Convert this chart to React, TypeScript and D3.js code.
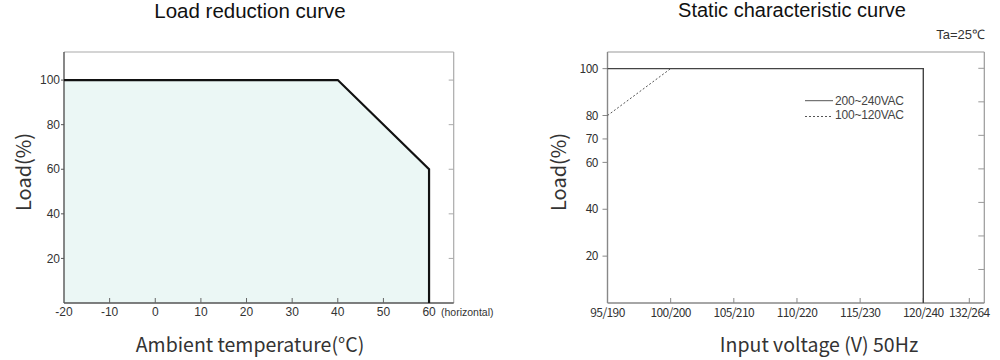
import React from "react";
import * as d3 from "d3";

// ---- Data: Load reduction curve ----
const tempTicks = [-20, -10, 0, 10, 20, 30, 40, 50, 60];
const loadTicksL = [20, 40, 60, 80, 100];
const derateTemp = [-20, 40, 60, 60];
const derateLoad = [100, 100, 60, 0];

// ---- Data: Static characteristic curve ----
const voltTickValues = [95, 100, 105, 110, 115, 120, 132];
const voltTickLabels = ["95/190", "100/200", "105/210", "110/220", "115/230", "120/240", "132/264"];
const loadTicksR = [20, 40, 60, 70, 80, 100];
const rightMinorTicks = [1, 2, 3, 4, 5, 6, 7];
const highVolt = [95, 120, 120];
const highLoad = [100, 100, 0];
const lowVolt = [95, 100];
const lowLoad = [80, 100];
const legendLabels = ["200~240VAC", "100~120VAC"];

const ARIAL = "'Liberation Sans', Arial, sans-serif";
const CJK = "'Noto Sans CJK SC', 'Noto Sans', sans-serif";

export default function App() {
  // left chart
  const L = { x0: 64, x1: 453.7, y0: 52, y1: 303 };
  const xL = d3.scaleLinear().domain([-20, 65.4]).range([L.x0, L.x1]);
  const yL = d3.scaleLinear().domain([0, 112.6]).range([L.y1, L.y0]);
  const derPts: [number, number][] = derateTemp.map((t, i) => [t, derateLoad[i]]);
  const lineL = d3.line<[number, number]>().x(d => xL(d[0])).y(d => yL(d[1]));
  const areaL = d3.area<[number, number]>().x(d => xL(d[0])).y0(yL(0)).y1(d => yL(d[1]));

  // right chart
  const R = { x0: 607.5, x1: 984.3, y0: 52, y1: 303 };
  const xR = d3.scaleLinear().domain([95, 120, 132, 135.26]).range([R.x0, 923.3, 969.3, R.x1]);
  const yR = d3.scaleLinear().domain([0, 107.1]).range([R.y1, R.y0]);
  const yR2 = d3.scaleLinear().domain([0, 7]).range([R.y1, 68.3]);
  const lineR = d3.line<[number, number]>().x(d => xR(d[0])).y(d => yR(d[1]));
  const hiPts: [number, number][] = highVolt.map((v, i) => [v, highLoad[i]]);
  const loPts: [number, number][] = lowVolt.map((v, i) => [v, lowLoad[i]]);

  const tickColor = "#666";
  const labelColor = "#333";

  return (
    <svg width={1000} height={360} style={{ position: "absolute", left: 0, top: 0, background: "#fff" }}>
      {/* ===== LEFT CHART ===== */}
      <text x={250} y={18} textAnchor="middle" fontFamily={ARIAL} fontSize={20.5} fill="#111">Load reduction curve</text>
      <path d={areaL(derPts) || ""} fill="#ebf7f5" />
      {/* frame */}
      <line x1={L.x0} x2={L.x1} y1={L.y0} y2={L.y0} stroke="#aaa" strokeWidth={1.2} />
      <line x1={L.x1} x2={L.x1} y1={L.y0} y2={L.y1} stroke="#aaa" strokeWidth={1.2} />
      <line x1={L.x0} x2={L.x0} y1={L.y0} y2={L.y1} stroke="#555" strokeWidth={1.4} />
      <line x1={L.x0} x2={L.x1} y1={L.y1} y2={L.y1} stroke="#555" strokeWidth={1.4} />
      {loadTicksL.map(v => (
        <g key={"ly" + v}>
          <line x1={L.x0 - 3} x2={L.x0} y1={yL(v)} y2={yL(v)} stroke="#555" />
          <line x1={L.x1 - 5} x2={L.x1} y1={yL(v)} y2={yL(v)} stroke="#aaa" />
          <text x={60} y={yL(v)} dy="0.35em" textAnchor="end" fontFamily={ARIAL} fontSize={12} fill={labelColor}>{v}</text>
        </g>
      ))}
      {tempTicks.map(v => (
        <g key={"lx" + v}>
          {v !== -20 && <line x1={xL(v)} x2={xL(v)} y1={L.y1 - 5} y2={L.y1} stroke={tickColor} />}
          <text x={xL(v)} y={316} textAnchor="middle" fontFamily={ARIAL} fontSize={12} fill={labelColor}>{v}</text>
        </g>
      ))}
      <text x={441} y={316} fontFamily={ARIAL} fontSize={10.5} fill={labelColor}>(horizontal)</text>
      <path d={lineL(derPts) || ""} fill="none" stroke="#111" strokeWidth={2.2} strokeLinejoin="miter" />
      <text x={250} y={352} textAnchor="middle" fontFamily={CJK} fontSize={19.5} fill="#333">Ambient temperature(°C)</text>
      <text transform="translate(31,172) rotate(-90)" textAnchor="middle" fontFamily={CJK} fontSize={20} fill="#333">Load(%)</text>

      {/* ===== RIGHT CHART ===== */}
      <text x={792} y={17} textAnchor="middle" fontFamily={ARIAL} fontSize={20} fill="#111">Static characteristic curve</text>
      <text x={985} y={39} textAnchor="end" fontFamily={ARIAL} fontSize={13} fill={labelColor}>Ta=25℃</text>
      <line x1={R.x0} x2={R.x1} y1={R.y0} y2={R.y0} stroke="#999" strokeWidth={1.2} />
      <line x1={R.x1} x2={R.x1} y1={R.y0} y2={R.y1} stroke="#999" strokeWidth={1.2} />
      <line x1={R.x0} x2={R.x0} y1={R.y0} y2={R.y1} stroke="#888" strokeWidth={1.4} />
      <line x1={R.x0} x2={R.x1} y1={R.y1} y2={R.y1} stroke="#888" strokeWidth={1.4} />
      {loadTicksR.map(v => (
        <g key={"ry" + v}>
          <line x1={R.x0 - 5} x2={R.x0} y1={yR(v)} y2={yR(v)} stroke="#888" />
          <text x={598} y={yR(v)} dy="0.35em" textAnchor="end" fontFamily={CJK} fontSize={12} letterSpacing={-0.5} fill={labelColor}>{v}</text>
        </g>
      ))}
      {rightMinorTicks.map(v => (
        <line key={"rm" + v} x1={R.x1 - 6} x2={R.x1} y1={yR2(v)} y2={yR2(v)} stroke="#999" />
      ))}
      {voltTickValues.map((v, i) => (
        <g key={"rx" + v}>
          <line x1={xR(v)} x2={xR(v)} y1={R.y1 - 5} y2={R.y1} stroke="#888" />
          <text x={xR(v)} y={317} textAnchor="middle" fontFamily={CJK} fontSize={12} letterSpacing={-0.6} fill={labelColor}>{voltTickLabels[i]}</text>
        </g>
      ))}
      <path d={lineR(hiPts) || ""} fill="none" stroke="#444" strokeWidth={1.4} />
      <path d={lineR(loPts) || ""} fill="none" stroke="#555" strokeWidth={1} strokeDasharray="2,2" />
      {/* legend */}
      <line x1={805} x2={833} y1={100.7} y2={100.7} stroke="#555" strokeWidth={1} />
      <text x={835} y={104.5} fontFamily={ARIAL} fontSize={12} letterSpacing={-0.2} fill="#444">{legendLabels[0]}</text>
      <line x1={805} x2={833} y1={116.5} y2={116.5} stroke="#555" strokeWidth={1} strokeDasharray="2,2" />
      <text x={835} y={118.5} fontFamily={ARIAL} fontSize={12} letterSpacing={-0.2} fill="#444">{legendLabels[1]}</text>
      <text x={819} y={352} textAnchor="middle" fontFamily={CJK} fontSize={19.5} fill="#333">Input voltage (V) 50Hz</text>
      <text transform="translate(566,172) rotate(-90)" textAnchor="middle" fontFamily={CJK} fontSize={20} fill="#333">Load(%)</text>
    </svg>
  );
}
